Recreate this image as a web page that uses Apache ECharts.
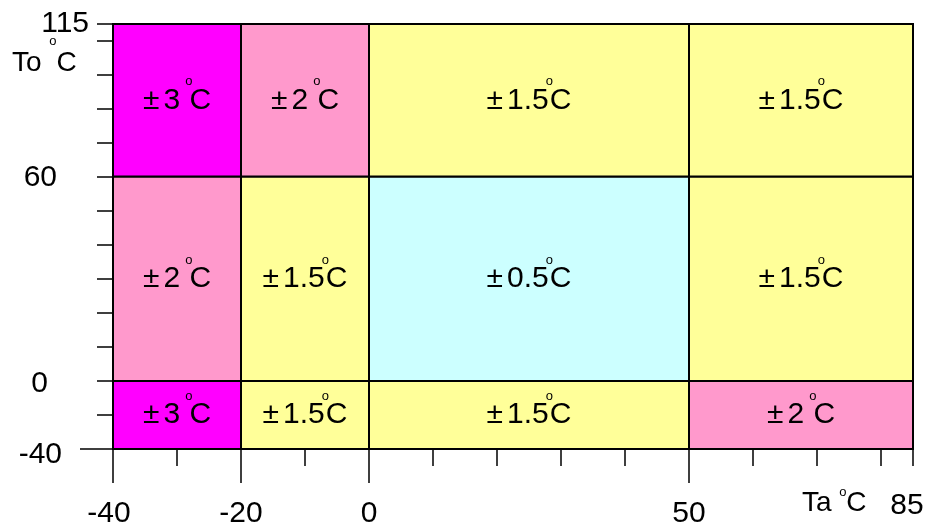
<!DOCTYPE html>
<html>
<head>
<meta charset="utf-8">
<script src="https://cdn.jsdelivr.net/npm/echarts@6/dist/echarts.min.js"></script>
<style>
  html, body { margin: 0; padding: 0; background: #fff; }
  #chart { width: 927px; height: 525px; }
</style>
</head>
<body>
<div id="chart"></div>
<script>
// 环境温度 Ta 的分段 (°C)
const taEdges = [-40, -20, 0, 50, 85];
// 被测温度 To 的分段 (°C)
const toEdges = [-40, 0, 60, 115];
// To 分段在纵轴上的位置 (原图纵轴不是线性的, 以刻度格为单位)
const toPos = [0, 2, 8, 12.48];
// 每格精度, 行从下往上 (To -40..0, 0..60, 60..115)
const accuracy = [
  ['±3', '±1.5', '±1.5', '±2'],
  ['±2', '±1.5', '±0.5', '±1.5'],
  ['±3', '±2', '±1.5', '±1.5'],
];
const taLabels = [-40, -20, 0, 50, 85];
const taMajorTicks = [-40, -20, 0, 50];

const colors = { '±3': '#ff00ff', '±2': '#ff99cc', '±1.5': '#ffff99', '±0.5': '#ccffff' };
const FONT = '"Liberation Sans", Arial, sans-serif';

// 温度 -> 纵轴位置 (分段线性)
function toAxis(t) {
  for (let i = 0; i < toEdges.length - 1; i++) {
    if (t <= toEdges[i + 1]) {
      const k = (t - toEdges[i]) / (toEdges[i + 1] - toEdges[i]);
      return toPos[i] + k * (toPos[i + 1] - toPos[i]);
    }
  }
  return toPos[toPos.length - 1];
}

const cells = [];
accuracy.forEach((row, r) => {
  row.forEach((acc, c) => {
    cells.push({
      value: [taEdges[c], taEdges[c + 1], toAxis(toEdges[r]), toAxis(toEdges[r + 1])],
      acc: acc,
    });
  });
});

const cellRich = {
  pm: { fontSize: 30, fontFamily: FONT, fill: '#000', padding: [0, 4, 0, 0] },
  v: { fontSize: 30, fontFamily: FONT, fill: '#000' },
  o: { fontSize: 13, fontFamily: FONT, fill: '#000', width: 1, padding: [0, 0, 37, 0] },
  c: { fontSize: 30, fontFamily: FONT, fill: '#000' },
};

function cellText(acc) {
  // 整数精度后面留一个空格, 和原图一致
  let v = acc.slice(1);
  if (v.indexOf('.') < 0) v += ' ';
  return '{pm|±}{v|' + v + '}{o|o}{c|C}';
}

const yRich = {
  y0: { fontSize: 30, fontFamily: FONT, color: '#000', padding: [12, 31, 0, 0] },
  y1: { fontSize: 30, fontFamily: FONT, color: '#000', padding: [6, 45, 0, 0] },
  y2: { fontSize: 30, fontFamily: FONT, color: '#000', padding: [2, 36, 0, 0] },
  y3: { fontSize: 30, fontFamily: FONT, color: '#000', padding: [0, 4, 0, 0] },
};

const xRich = {
  first: { fontSize: 30, fontFamily: FONT, color: '#000', padding: [8, 8, 0, 0] },
  n: { fontSize: 30, fontFamily: FONT, color: '#000', padding: [8, 0, 0, 0] },
  last: { fontSize: 30, fontFamily: FONT, color: '#000', padding: [0, 12, 0, 0] },
};

const tickStyle = { color: '#000', width: 1.5 };
const lineStyle = { color: '#000', width: 2 };

const chart = echarts.init(document.getElementById('chart'));

chart.setOption({
  animation: false,
  grid: { left: 113, right: 14, top: 24, bottom: 76, containLabel: false, outerBoundsMode: 'none' },
  xAxis: [
    {
      type: 'value', position: 'bottom', min: -40, max: 85, interval: 10,
      axisLine: { show: true, onZero: false, lineStyle: lineStyle },
      axisTick: { show: true, length: 17, lineStyle: tickStyle },
      axisLabel: { show: false },
      splitLine: { show: false },
    },
    {
      type: 'value', position: 'bottom', min: -40, max: 85,
      axisLine: { show: true, onZero: false, lineStyle: lineStyle },
      axisTick: { show: true, length: 34, lineStyle: tickStyle, customValues: taMajorTicks },
      axisLabel: {
        show: true, margin: 42, customValues: taLabels,
        formatter: (v) => {
          const i = taLabels.indexOf(v);
          const key = i === 0 ? 'first' : (i === taLabels.length - 1 ? 'last' : 'n');
          return '{' + key + '|' + v + '}';
        },
        rich: xRich,
      },
      splitLine: { show: false },
    },
  ],
  yAxis: [
    {
      type: 'value', position: 'left', min: 0, max: toPos[toPos.length - 1], interval: 1,
      axisLine: { show: true, onZero: false, lineStyle: lineStyle },
      axisTick: { show: true, length: 16, lineStyle: tickStyle },
      axisLabel: {
        show: true, margin: 20, showMinLabel: true, showMaxLabel: true,
        formatter: (v) => {
          for (let i = 0; i < toPos.length; i++) {
            if (Math.abs(toPos[i] - v) < 1e-6) return '{y' + i + '|' + toEdges[i] + '}';
          }
          return '';
        },
        rich: yRich,
      },
      splitLine: { show: false },
    },
    {
      type: 'value', position: 'left', min: 0, max: toPos[toPos.length - 1],
      axisLine: { show: true, onZero: false, lineStyle: lineStyle },
      axisTick: { show: true, length: 33, lineStyle: tickStyle, customValues: [toPos[0]] },
      axisLabel: { show: false },
      splitLine: { show: false },
    },
  ],
  series: [
    {
      type: 'custom',
      xAxisIndex: 0,
      yAxisIndex: 0,
      clip: false,
      encode: { x: [0, 1], y: [2, 3] },
      data: cells,
      renderItem: (params, api) => {
        const p0 = api.coord([api.value(0), api.value(3)]);
        const p1 = api.coord([api.value(1), api.value(2)]);
        const acc = cells[params.dataIndex].acc;
        return {
          type: 'rect',
          shape: { x: p0[0], y: p0[1], width: p1[0] - p0[0], height: p1[1] - p0[1] },
          style: { fill: colors[acc], stroke: '#000', lineWidth: 2 },
          textContent: {
            style: { text: cellText(acc), rich: cellRich, fontSize: 30, fontFamily: FONT, fill: '#000' },
          },
          textConfig: { position: 'inside' },
        };
      },
    },
  ],
  graphic: [
    {
      type: 'text', left: 12, top: 35,
      style: {
        text: '{v|To }{o|o}{c|C}',
        rich: {
          v: { fontSize: 28, fontFamily: FONT, fill: '#000' },
          o: { fontSize: 13, fontFamily: FONT, fill: '#000', padding: [0, 0, 43, 0] },
          c: { fontSize: 28, fontFamily: FONT, fill: '#000' },
        },
      },
    },
    {
      type: 'text', left: 802, top: 486,
      style: {
        text: '{v|Ta }{o|o}{c|C}',
        rich: {
          v: { fontSize: 28, fontFamily: FONT, fill: '#000' },
          o: { fontSize: 13, fontFamily: FONT, fill: '#000', width: 7, padding: [0, 0, 21, 0] },
          c: { fontSize: 28, fontFamily: FONT, fill: '#000' },
        },
      },
    },
  ],
});
</script>
</body>
</html>
